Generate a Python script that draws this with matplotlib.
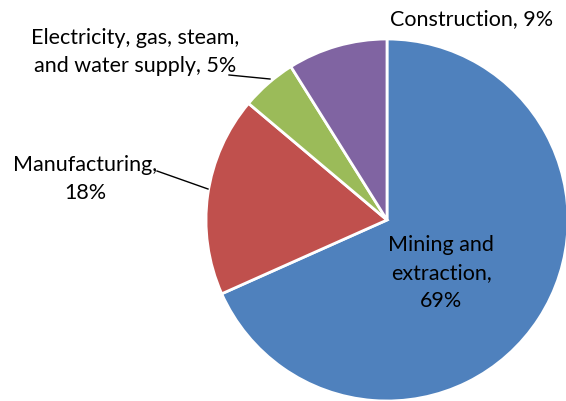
import matplotlib
matplotlib.use("Agg")
import matplotlib.pyplot as plt

# Share of employment by sector
sectors = ["Mining and\nextraction", "Manufacturing", "Electricity, gas, steam,\nand water supply", "Construction"]
shares = [69, 18, 5, 9]
label_texts = ["Mining and\nextraction,\n69%", "Manufacturing,\n18%", "Electricity, gas, steam,\nand water supply, 5%", "Construction, 9%"]
colors = ["#4F81BD", "#C0504D", "#9BBB59", "#8064A2"]

plt.rcParams["font.family"] = ["Lato", "DejaVu Sans"]

W, H = 566, 402
fig = plt.figure(figsize=(W / 100, H / 100), dpi=100)
ax = fig.add_axes([0, 0, 1, 1])

cx, cy, r = 387, H - 221, 181
ax.pie(shares, colors=colors, startangle=90, counterclock=False,
       center=(cx, cy), radius=r, frame=True,
       wedgeprops=dict(edgecolor="white", linewidth=2))
ax.set_xlim(0, W)
ax.set_ylim(0, H)
ax.set_aspect("equal")
ax.axis("off")

fs = 15.5
ls = 1.5
def py(y):
    return H - y

ax.text(441, py(273), label_texts[0], ha="center", va="center", fontsize=fs, linespacing=ls)
ax.text(85, py(179), label_texts[1], ha="center", va="center", fontsize=fs, linespacing=ls)
ax.text(135, py(52), label_texts[2], ha="center", va="center", fontsize=fs, linespacing=ls)
ax.text(472, py(19), label_texts[3], ha="center", va="center", fontsize=fs)

# leader lines
ax.plot([157, 208], [py(172), py(190)], color="black", lw=1)
ax.plot([229, 270], [py(76), py(80)], color="black", lw=1)

fig.savefig("out.png", dpi=100)
